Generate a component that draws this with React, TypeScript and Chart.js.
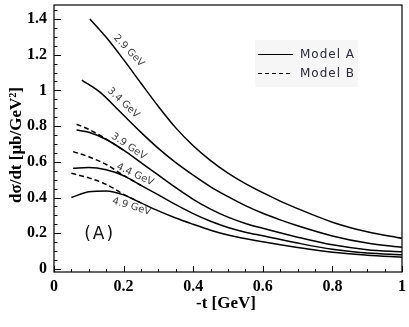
import { useEffect, useRef } from 'react';
import { Chart, registerables } from 'chart.js';

Chart.register(...registerables);

// ---- axes ----
const xTicks = [0, 0.2, 0.4, 0.6, 0.8, 1];
const xTickLabels = ['0', '0.2', '0.4', '0.6', '0.8', '1'];
const yTicks = [0, 0.2, 0.4, 0.6, 0.8, 1, 1.2, 1.4];
const yTickLabels = ['0', '0.2', '0.4', '0.6', '0.8', '1', '1.2', '1.4'];
const xTitle = '-t [GeV]';
const yTitle = 'dσ/dt [μb/GeV²]';

// ---- curves: Model A (solid) ----
const t29A = [0.103, 0.15, 0.2, 0.25, 0.3, 0.35, 0.4, 0.45, 0.5, 0.55, 0.6, 0.65, 0.7, 0.8, 0.9, 1.0];
const s29A = [1.40, 1.297, 1.172, 1.04, 0.91, 0.79, 0.69, 0.607, 0.537, 0.478, 0.427, 0.38, 0.338, 0.262, 0.208, 0.172];

const t34A = [0.08, 0.132, 0.19, 0.25, 0.3, 0.35, 0.4, 0.45, 0.5, 0.55, 0.6, 0.65, 0.7, 0.8, 0.9, 1.0];
const s34A = [1.058, 0.99, 0.88, 0.765, 0.675, 0.595, 0.525, 0.46, 0.405, 0.355, 0.312, 0.275, 0.242, 0.185, 0.145, 0.121];

const t39A = [0.065, 0.1, 0.15, 0.2, 0.25, 0.3, 0.35, 0.4, 0.45, 0.5, 0.55, 0.6, 0.7, 0.8, 0.9, 1.0];
const s39A = [0.778, 0.765, 0.725, 0.665, 0.595, 0.525, 0.455, 0.39, 0.335, 0.29, 0.255, 0.228, 0.178, 0.135, 0.108, 0.096];

const t44A = [0.055, 0.1, 0.15, 0.2, 0.25, 0.3, 0.35, 0.4, 0.45, 0.5, 0.55, 0.6, 0.7, 0.8, 0.9, 1.0];
const s44A = [0.564, 0.568, 0.555, 0.522, 0.468, 0.415, 0.36, 0.31, 0.267, 0.232, 0.206, 0.186, 0.145, 0.11, 0.089, 0.079];

const t49A = [0.05, 0.1, 0.15, 0.2, 0.25, 0.3, 0.35, 0.4, 0.45, 0.5, 0.6, 0.7, 0.8, 0.9, 1.0];
const s49A = [0.40, 0.432, 0.437, 0.415, 0.37, 0.325, 0.285, 0.25, 0.217, 0.19, 0.152, 0.12, 0.093, 0.077, 0.066];

// ---- curves: Model B (dashed, differs only at small -t) ----
const t39B = [0.065, 0.1, 0.13, 0.15, 0.2];
const s39B = [0.81, 0.782, 0.75, 0.727, 0.665];

const t44B = [0.055, 0.1, 0.15, 0.2, 0.25];
const s44B = [0.657, 0.628, 0.585, 0.524, 0.468];

const t49B = [0.05, 0.1, 0.15, 0.2, 0.25];
const s49B = [0.536, 0.51, 0.474, 0.418, 0.37];

// ---- annotations ----
const energyLabels = ['2.9 GeV', '3.4 GeV', '3.9 GeV', '4.4 GeV', '4.9 GeV'];
const labelX = [0.215, 0.199, 0.215, 0.233, 0.223];
const labelY = [1.222, 0.93, 0.686, 0.528, 0.349];
const labelAngle = [47, 43, 34, 25, 17];

const legendLabels = ['Model A', 'Model B'];
const panelTag = '(A)';
const panelX = 0.131;
const panelY = 0.19;

const zip = (t: number[], s: number[]) => t.map((v, i) => ({ x: v, y: s[i] }));

const solid = (t: number[], s: number[]) => ({
  data: zip(t, s),
  borderColor: '#000',
  borderWidth: 1.5,
  pointRadius: 0,
  fill: false,
  cubicInterpolationMode: 'monotone' as const,
});
const dashed = (t: number[], s: number[]) => ({
  ...solid(t, s),
  borderDash: [5, 3],
});

const SERIF = '"Liberation Serif", "Times New Roman", serif';
const SANS = '"DejaVu Sans", sans-serif';

const decor = {
  id: 'decor',
  afterDatasetsDraw(chart: any) {
    const { ctx, chartArea: a } = chart;
    const x = chart.scales.x;
    const y = chart.scales.y;
    ctx.save();

    // frame
    ctx.strokeStyle = '#000';
    ctx.lineWidth = 1.2;
    ctx.strokeRect(a.left, a.top, a.right - a.left, a.bottom - a.top);

    // inward ticks (major every 0.2, minor every 0.05)
    ctx.lineWidth = 1;
    ctx.beginPath();
    for (let i = 0; i <= 20; i++) {
      const px = Math.round(x.getPixelForValue(i * 0.05)) + 0.5;
      const len = i % 4 === 0 ? 6 : 3;
      ctx.moveTo(px, a.bottom);
      ctx.lineTo(px, a.bottom - len);
    }
    for (let i = 0; i <= 29; i++) {
      const py = Math.round(y.getPixelForValue(i * 0.05)) + 0.5;
      if (py < a.top) continue;
      const len = i % 4 === 0 ? 7 : 3.5;
      ctx.moveTo(a.left, py);
      ctx.lineTo(a.left + len, py);
    }
    ctx.stroke();

    // curve labels
    ctx.font = `10px ${SANS}`;
    ctx.fillStyle = '#444';
    ctx.textAlign = 'center';
    ctx.textBaseline = 'middle';
    energyLabels.forEach((txt, i) => {
      ctx.save();
      ctx.translate(x.getPixelForValue(labelX[i]), y.getPixelForValue(labelY[i]));
      ctx.rotate((labelAngle[i] * Math.PI) / 180);
      ctx.fillText(txt, 0, 0);
      ctx.restore();
    });

    // panel tag
    ctx.font = `17px ${SANS}`;
    ctx.fillStyle = '#111';
    (ctx as any).letterSpacing = '2px';
    ctx.fillText(panelTag, x.getPixelForValue(panelX), y.getPixelForValue(panelY));
    (ctx as any).letterSpacing = '0px';

    // legend
    const bx = a.right - 147;
    const by = a.top + 35;
    ctx.fillStyle = '#f6f6f6';
    ctx.fillRect(bx, by, 103, 47);
    ctx.font = `12px ${SANS}`;
    ctx.textAlign = 'left';
    (ctx as any).letterSpacing = '1px';
    legendLabels.forEach((txt, i) => {
      const ly = by + 14 + i * 19;
      ctx.strokeStyle = '#000';
      ctx.lineWidth = 1.2;
      ctx.setLineDash(i === 1 ? [4, 3] : []);
      ctx.beginPath();
      ctx.moveTo(bx + 3, ly + 0.5);
      ctx.lineTo(bx + 38, ly + 0.5);
      ctx.stroke();
      ctx.fillStyle = '#2a2a38';
      ctx.fillText(txt, bx + 45, ly + 1);
    });
    ctx.setLineDash([]);
    (ctx as any).letterSpacing = '0px';

    // axis titles
    ctx.fillStyle = '#000';
    ctx.font = `bold 17px ${SERIF}`;
    ctx.textAlign = 'center';
    ctx.fillText(xTitle, (a.left + a.right) / 2 - 2, a.bottom + 32);
    ctx.save();
    ctx.translate(17, 145);
    ctx.rotate(-Math.PI / 2);
    ctx.fillText(yTitle, 0, 0);
    ctx.restore();

    ctx.restore();
  },
};

export default function App() {
  const ref = useRef<HTMLCanvasElement>(null);
  useEffect(() => {
    document.body.style.margin = '0';
    const chart = new Chart(ref.current!, {
      type: 'line',
      data: {
        datasets: [
          solid(t29A, s29A),
          solid(t34A, s34A),
          solid(t39A, s39A),
          solid(t44A, s44A),
          solid(t49A, s49A),
          dashed(t39B, s39B),
          dashed(t44B, s44B),
          dashed(t49B, s49B),
        ] as any,
      },
      options: {
        responsive: false,
        animation: false,
        layout: { padding: { top: 5, right: 7, left: 0, bottom: 0 } },
        plugins: { legend: { display: false }, tooltip: { enabled: false } },
        scales: {
          x: {
            type: 'linear',
            min: 0,
            max: 1,
            grid: { display: false, drawTicks: false },
            border: { display: false },
            afterBuildTicks: (s: any) => {
              s.ticks = xTicks.map((v) => ({ value: v }));
            },
            afterFit: (s: any) => {
              s.height = 55;
              s.paddingLeft = 0;
              s.paddingRight = 0;
            },
            ticks: {
              padding: 5,
              maxRotation: 0,
              color: '#000',
              font: { family: SERIF, size: 16, weight: 'bold' },
              callback: (v: any) => xTickLabels[xTicks.indexOf(Number(v))] ?? '',
            },
          },
          y: {
            type: 'linear',
            min: -0.017,
            max: 1.478,
            grid: { display: false, drawTicks: false },
            border: { display: false },
            afterBuildTicks: (s: any) => {
              s.ticks = yTicks.map((v) => ({ value: v }));
            },
            afterFit: (s: any) => {
              s.width = 54;
              s.paddingTop = 0;
              s.paddingBottom = 0;
            },
            ticks: {
              padding: 7,
              color: '#000',
              font: { family: SERIF, size: 16, weight: 'bold' },
              callback: (v: any) => yTickLabels[yTicks.indexOf(Number(v))] ?? '',
            },
          },
        },
      },
      plugins: [decor],
    });
    return () => chart.destroy();
  }, []);
  return (
    <div style={{ width: 409, height: 327 }}>
      <canvas ref={ref} width={409} height={327} style={{ display: 'block' }} />
    </div>
  );
}
